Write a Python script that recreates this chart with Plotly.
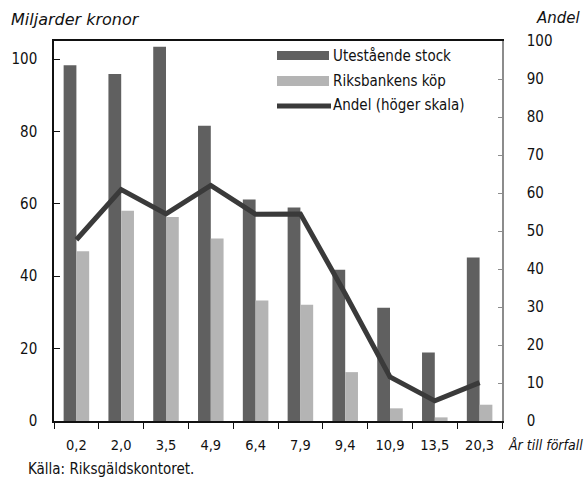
import plotly.graph_objects as go

# Years to maturity (category labels)
maturity = ["0,2", "2,0", "3,5", "4,9", "6,4", "7,9", "9,4", "10,9", "13,5", "20,3"]
# Outstanding stock, SEK billion
outstanding = [98.3, 95.9, 103.4, 81.6, 61.2, 59.0, 41.8, 31.3, 18.9, 45.2]
# Riksbank purchases, SEK billion
purchases = [46.9, 58.1, 56.4, 50.4, 33.3, 32.1, 13.5, 3.5, 1.0, 4.5]
# Share held by the Riksbank, percent (right axis)
share = [47.7, 60.9, 54.5, 62.0, 54.4, 54.5, 33.5, 11.6, 5.3, 10.1]

left_ticks = [0, 20, 40, 60, 80, 100]
right_ticks = [0, 10, 20, 30, 40, 50, 60, 70, 80, 90, 100]

W, H = 588, 479
ML, MR, MT, MB = 54, 86, 41, 58
PW, PH = W - ML - MR, H - MT - MB

COND = "DejaVu Sans Condensed, Liberation Sans Narrow, sans-serif"
OBL = "DejaVu Sans, Liberation Sans, sans-serif"
DARK, LIGHT, LINE = "#606060", "#b4b4b4", "#3a3a3a"


def px(x):
    return (x - ML) / PW


def py(y):
    return (MT + PH - y) / PH


fig = go.Figure()
fig.add_trace(go.Bar(x=maturity, y=outstanding, name="Utestående stock",
                     marker=dict(color=DARK, line=dict(width=0))))
fig.add_trace(go.Bar(x=maturity, y=purchases, name="Riksbankens köp",
                     marker=dict(color=LIGHT, line=dict(width=0))))
fig.add_trace(go.Scatter(x=maturity, y=share, name="Andel (höger skala)",
                         mode="lines", yaxis="y2",
                         line=dict(color=LINE, width=5)))

# Hand-drawn legend in the upper right of the plot area
shapes = [
    dict(type="rect", xref="paper", yref="paper", x0=px(277), x1=px(329),
         y0=py(60), y1=py(51), fillcolor=DARK, line=dict(width=0)),
    dict(type="rect", xref="paper", yref="paper", x0=px(277), x1=px(329),
         y0=py(86), y1=py(76), fillcolor=LIGHT, line=dict(width=0)),
    dict(type="line", xref="paper", yref="paper", x0=px(277), x1=px(331),
         y0=py(106), y1=py(106), line=dict(color=LINE, width=5)),
]
legend_labels = [("Utestående stock", 56), ("Riksbankens köp", 81),
                 ("Andel (höger skala)", 105)]
annotations = [
    dict(text=t, xref="paper", yref="paper", x=px(331), y=py(yc),
         xanchor="left", yanchor="middle", showarrow=False,
         font=dict(family=COND, size=15, color="#111"))
    for t, yc in legend_labels
]
annotations += [
    dict(text="<i>Miljarder kronor</i>", xref="paper", yref="paper",
         x=px(9), y=py(19), xanchor="left", yanchor="middle", showarrow=False,
         font=dict(family=OBL, size=16, color="#111")),
    dict(text="<i>Andel</i>", xref="paper", yref="paper",
         x=px(583), y=py(18), xanchor="right", yanchor="middle", showarrow=False,
         font=dict(family=OBL, size=15, color="#111")),
    dict(text="<i>År till förfall</i>", xref="paper", yref="paper",
         x=px(506), y=py(445), xanchor="left", yanchor="middle", showarrow=False,
         font=dict(family=COND, size=14, color="#111")),
    dict(text="Källa: Riksgäldskontoret.", xref="paper", yref="paper",
         x=px(26), y=py(469), xanchor="left", yanchor="middle", showarrow=False,
         font=dict(family=COND, size=15, color="#111")),
]

fig.update_layout(
    width=W, height=H,
    margin=dict(l=ML, r=MR, t=MT, b=MB, pad=0),
    paper_bgcolor="white", plot_bgcolor="white",
    barmode="group", bargap=0.43, bargroupgap=0,
    showlegend=False,
    font=dict(family=COND, size=15, color="#111"),
    xaxis=dict(type="category", tickson="boundaries", ticks="outside",
               ticklen=6, tickcolor="#111", tickwidth=1.3,
               showline=True, linecolor="#111", linewidth=1.5, mirror=True,
               showgrid=False, tickfont=dict(family=COND, size=14.5),
               ticklabelstandoff=10),
    yaxis=dict(range=[0, 105], tickvals=left_ticks, ticks="inside",
               ticklen=6, tickcolor="#111", tickwidth=1.3,
               showline=True, linecolor="#111", linewidth=1.5,
               showgrid=False, zeroline=False,
               tickfont=dict(family=COND, size=15), ticklabelstandoff=12),
    yaxis2=dict(range=[0, 100], tickvals=right_ticks, overlaying="y",
                side="right", ticks="inside", ticklen=4, tickcolor="#8c8c8c",
                tickwidth=1.3, showline=True, linecolor="#8c8c8c",
                linewidth=1.5, showgrid=False, zeroline=False,
                tickfont=dict(family=COND, size=15), ticklabelstandoff=20),
    shapes=shapes,
    annotations=annotations,
)

fig.write_html("out.html")
